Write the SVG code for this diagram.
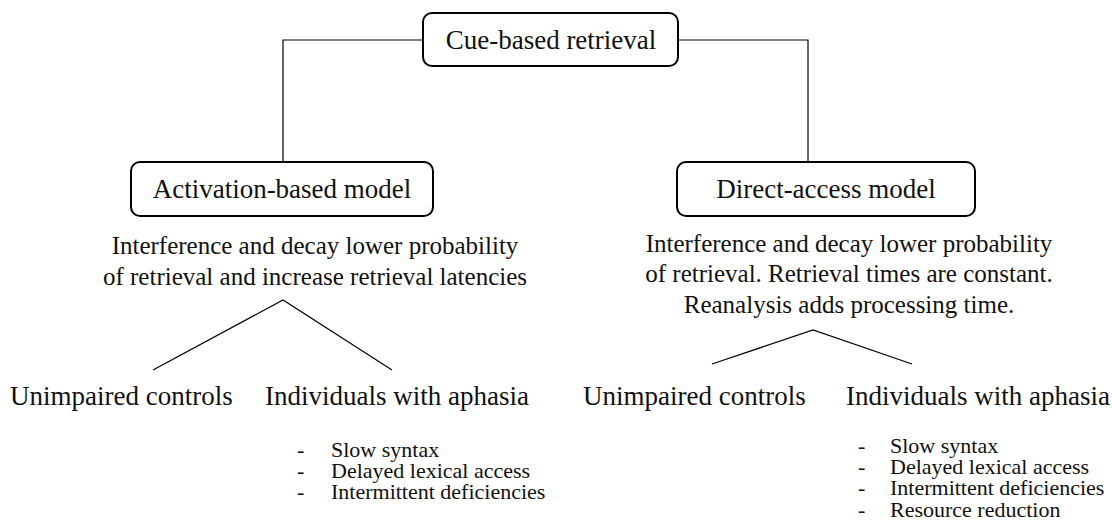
<svg xmlns="http://www.w3.org/2000/svg" width="1112" height="532" viewBox="0 0 1112 532">
<style>
.box{fill:#fff;stroke:#000;stroke-width:2}
.ln{fill:none;stroke:#000;stroke-width:1.2}
text{font-family:"Liberation Serif","Times New Roman",serif;fill:#111}
.t{font-size:27px;text-anchor:middle}
.d{font-size:25px;text-anchor:middle}
.l{font-size:27px}
.b{font-size:22px}
</style>
<rect width="1112" height="532" fill="#fff"/>
<g id="connectors">
<polyline class="ln" points="423,40 283,40 283,162"/>
<polyline class="ln" points="678,40 808,40 808,162"/>
<polyline class="ln" points="153,370 283,300 392,370"/>
<polyline class="ln" points="712,364 813,330 912,364"/>
</g>
<g id="cue">
<rect class="box" x="423" y="13" width="255" height="53" rx="9"/>
<text class="t" x="551" y="49">Cue-based retrieval</text>
</g>
<g id="activation">
<rect class="box" x="131" y="162" width="302" height="54" rx="9"/>
<text class="t" x="282" y="198">Activation-based model</text>
</g>
<g id="direct">
<rect class="box" x="677" y="162" width="298" height="54" rx="9"/>
<text class="t" x="826" y="198">Direct-access model</text>
</g>
<g id="act-desc">
<text class="d" x="315" y="254">Interference and decay lower probability</text>
<text class="d" x="315" y="285">of retrieval and increase retrieval latencies</text>
</g>
<g id="dir-desc">
<text class="d" x="849" y="252">Interference and decay lower probability</text>
<text class="d" x="849" y="282">of retrieval. Retrieval times are constant.</text>
<text class="d" x="849" y="313">Reanalysis adds processing time.</text>
</g>
<g id="act-controls"><text class="l" x="10" y="405">Unimpaired controls</text></g>
<g id="act-aphasia">
<text class="l" x="265" y="405">Individuals with aphasia</text>
<text class="b" x="297" y="457">-</text><text class="b" x="331" y="457">Slow syntax</text>
<text class="b" x="297" y="478">-</text><text class="b" x="331" y="478">Delayed lexical access</text>
<text class="b" x="297" y="499">-</text><text class="b" x="331" y="499">Intermittent deficiencies</text>
</g>
<g id="dir-controls"><text class="l" x="583" y="405">Unimpaired controls</text></g>
<g id="dir-aphasia">
<text class="l" x="846" y="405">Individuals with aphasia</text>
<text class="b" x="858" y="453">-</text><text class="b" x="890" y="453">Slow syntax</text>
<text class="b" x="858" y="474">-</text><text class="b" x="890" y="474">Delayed lexical access</text>
<text class="b" x="858" y="495">-</text><text class="b" x="890" y="495">Intermittent deficiencies</text>
<text class="b" x="858" y="517">-</text><text class="b" x="890" y="517">Resource reduction</text>
</g>
</svg>
